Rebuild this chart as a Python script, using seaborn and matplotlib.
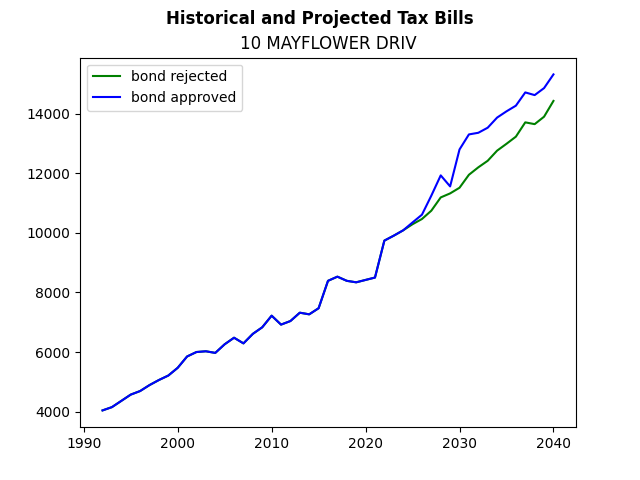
import matplotlib
matplotlib.use("Agg")
import matplotlib.pyplot as plt
import seaborn as sns
import pandas as pd

# historical bills (same for both scenarios), 1992-2024
hist_years = list(range(1992, 2025))
hist_bills = [4040, 4150, 4360, 4570, 4690, 4890, 5060, 5210, 5470, 5850,
              6000, 6025, 5970, 6260, 6480, 6290, 6610, 6830, 7220, 6920,
              7040, 7320, 7265, 7470, 8390, 8530, 8390, 8340, 8420, 8500,
              9740, 9906, 10085]

# projections 2025-2040
proj_years = list(range(2025, 2041))
rejected_proj = [10290, 10465, 10745, 11190, 11325, 11515, 11950, 12200,
                 12420, 12760, 12990, 13230, 13710, 13650, 13900, 14430]
approved_proj = [10350, 10610, 11250, 11930, 11560, 12800, 13305, 13360,
                 13530, 13870, 14080, 14270, 14715, 14625, 14860, 15320]

years = hist_years + proj_years
df = pd.concat([
    pd.DataFrame({"Year": years, "Bill": hist_bills + rejected_proj, "Scenario": "bond rejected"}),
    pd.DataFrame({"Year": years, "Bill": hist_bills + approved_proj, "Scenario": "bond approved"}),
], ignore_index=True)

fig, ax = plt.subplots(figsize=(6.4, 4.8), dpi=100)
sns.lineplot(data=df, x="Year", y="Bill", hue="Scenario",
             hue_order=["bond rejected", "bond approved"],
             palette={"bond rejected": "green", "bond approved": "blue"},
             ax=ax)

fig.suptitle("Historical and Projected Tax Bills", fontweight="bold")
ax.set_title("10 MAYFLOWER DRIV")
ax.set_xlabel("")
ax.set_ylabel("")
ax.legend(loc="upper left")

plt.savefig("out.png", dpi=100)
plt.close()
